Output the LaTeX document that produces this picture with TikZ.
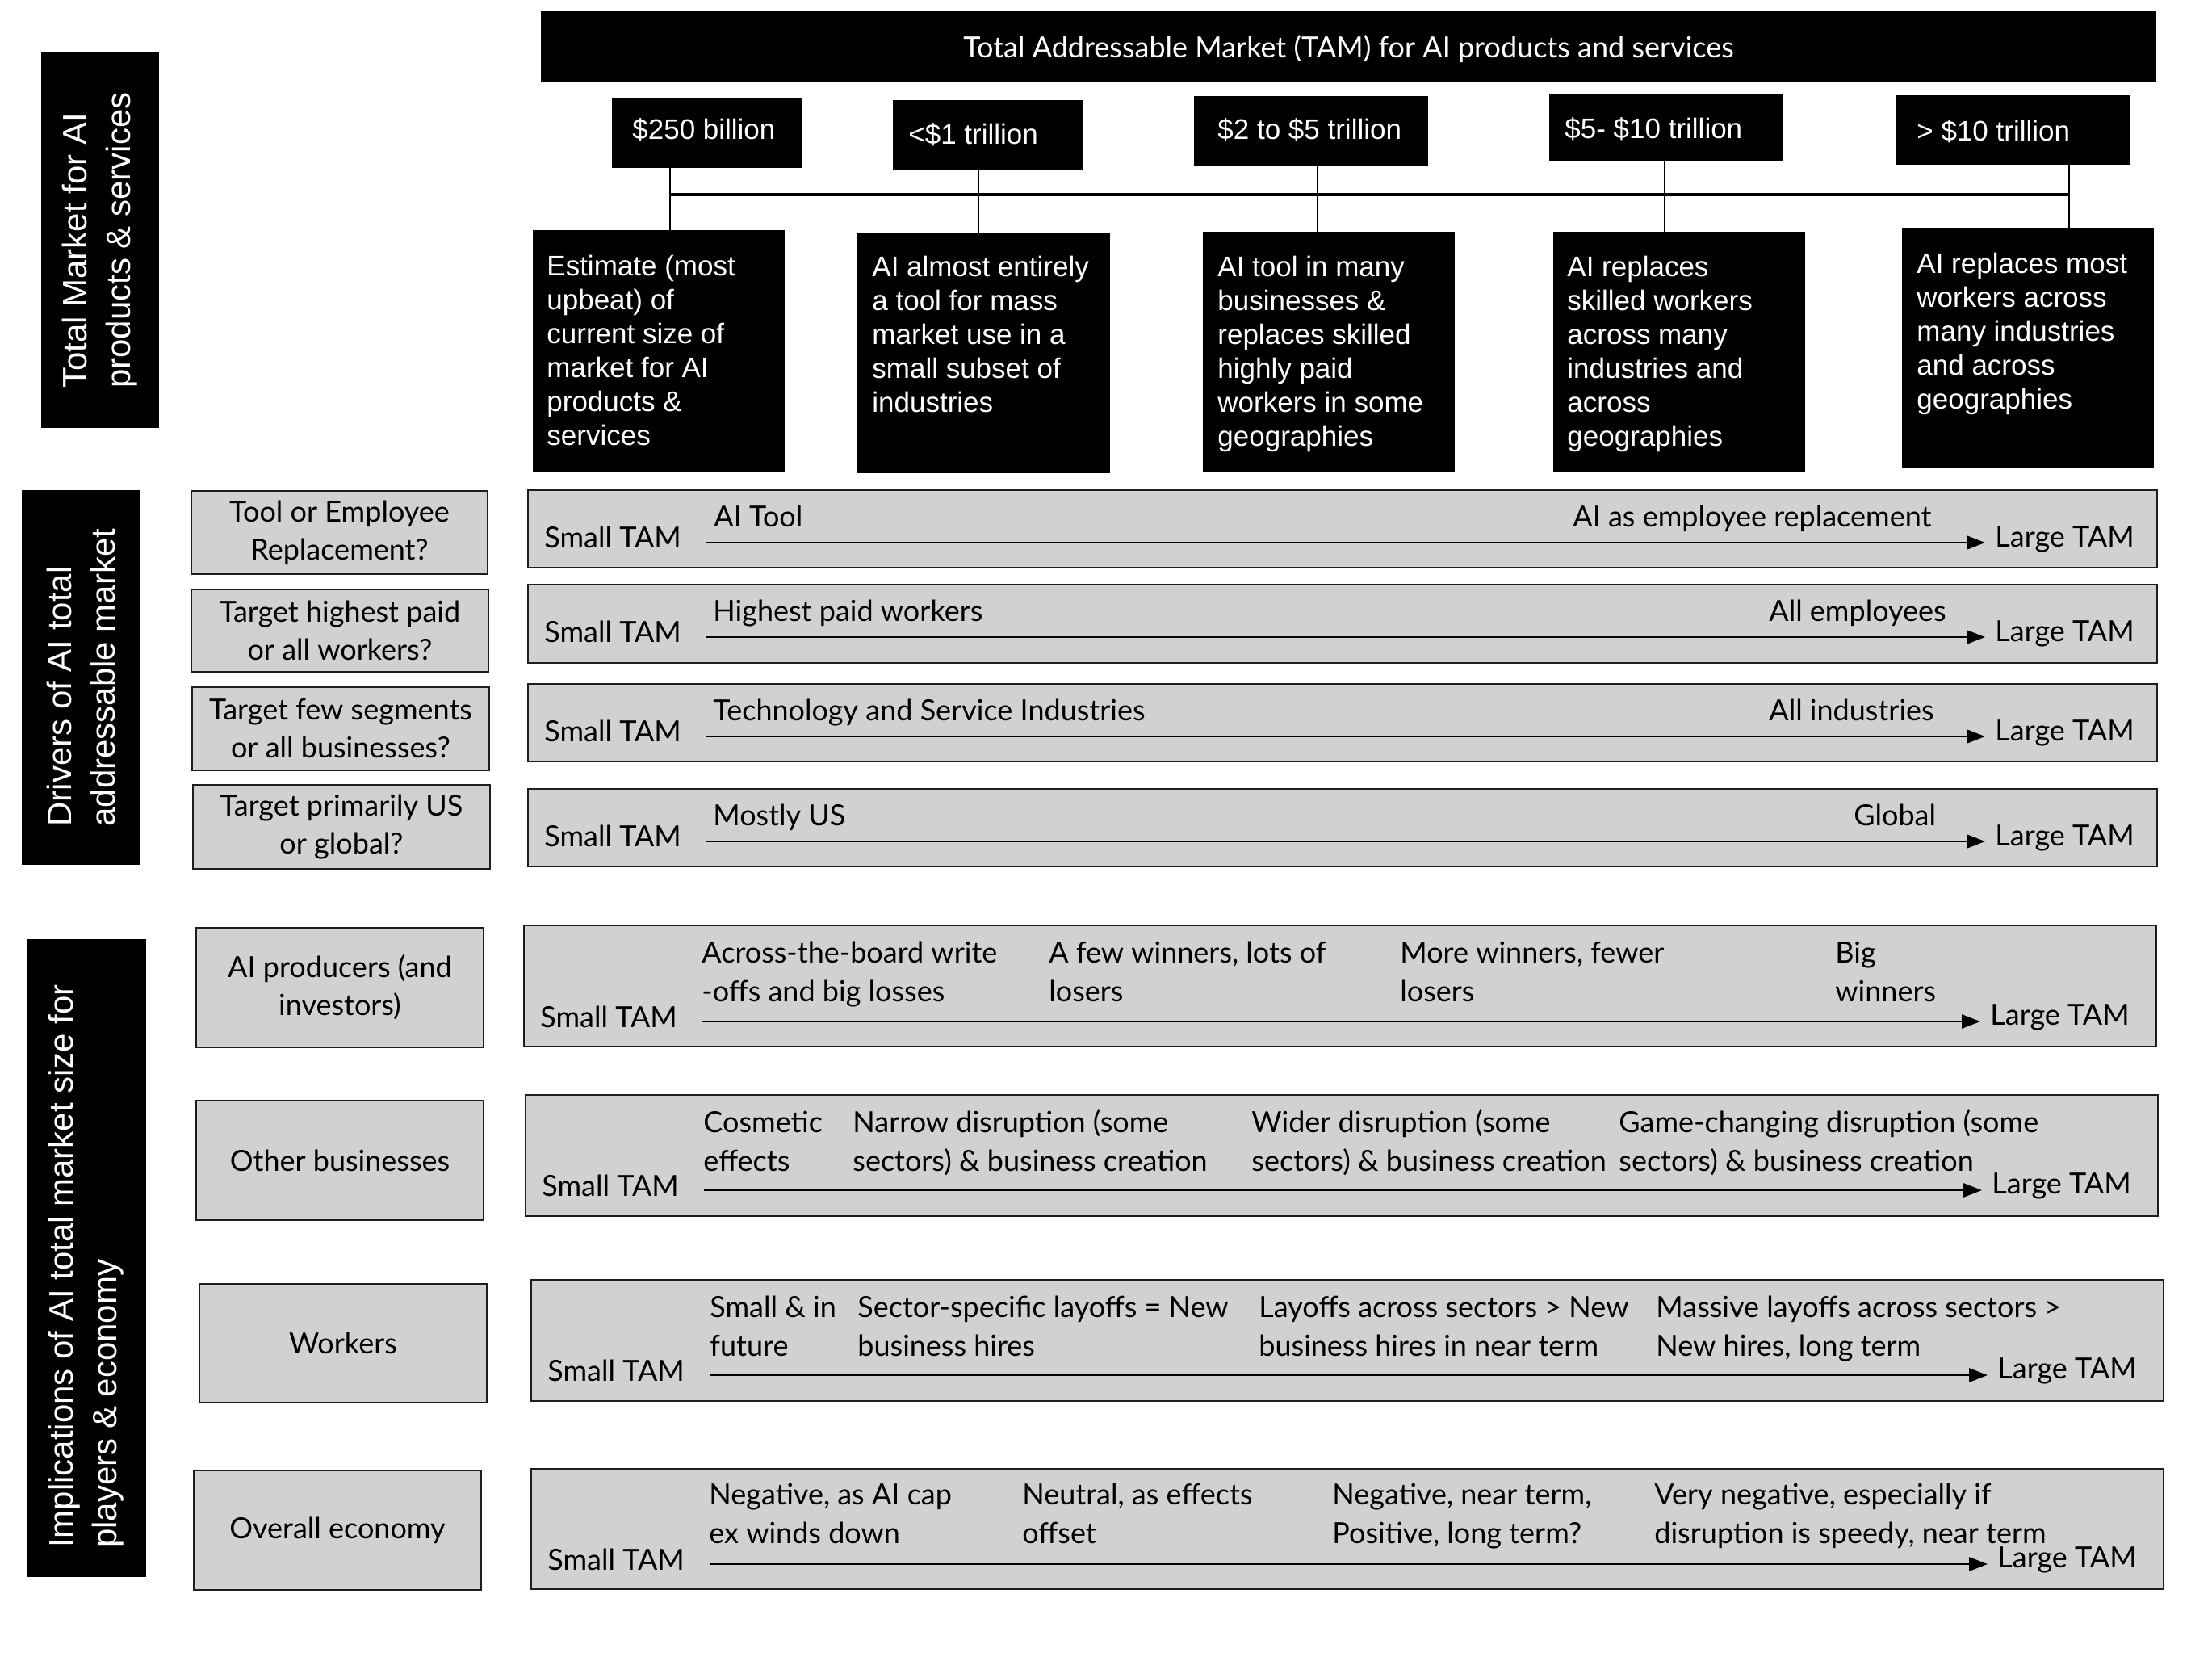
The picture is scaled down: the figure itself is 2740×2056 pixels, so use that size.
\documentclass[tikz,border=0pt]{standalone}
\usepackage{fontspec}
\usetikzlibrary{fit,arrows.meta}
\newfontfamily\latof{Lato}
\newfontfamily\arialf{Liberation Sans}
\definecolor{boxgray}{RGB}{209,209,209}
\definecolor{edgec}{RGB}{30,30,30}
\newcommand\fitbox[6]{\node[#1, fit={(#3,#4) (#5,#6)}] (#2) {};}
\newcommand\strutA{\rule{0pt}{16pt}}
\newcommand\strutB{\rule{0pt}{15pt}}
\begin{document}
\begin{tikzpicture}[x=0.5pt,y=-0.5pt,
  blk/.style={fill=black, draw=none, inner sep=0pt},
  gbox/.style={fill=boxgray, draw=edgec, line width=1.4pt, inner sep=0pt},
  wtxt/.style={text=white, font=\arialf\fontsize{17.5pt}{21pt}\selectfont, inner sep=0pt, align=left},
  gtxt/.style={text=black, font=\latof\fontsize{18pt}{24pt}\selectfont, inner sep=0pt},
  gctxt/.style={text=black, font=\latof\fontsize{18pt}{23.5pt}\selectfont, inner sep=0pt, align=center},
  coltxt/.style={gtxt, anchor=north west, align=left},
  rottxt/.style={text=white, font=\arialf\fontsize{21pt}{27pt}\selectfont, rotate=90, align=left, inner sep=0pt},
  conn/.style={line width=1pt, draw=black},
  hconn/.style={line width=1.6pt, draw=black},
  tamarrow/.style={line width=1.4pt, -{Triangle[length=11.5pt,width=8.5pt]}},
]
\fill[white] (0,0) rectangle (2740,2056);
\useasboundingbox (0,0) rectangle (2740,2056);

% ---------- left black labels ----------
\fitbox{blk}{L1}{51}{65}{197}{530}
\fitbox{blk}{L2}{27}{607}{173}{1071}
\fitbox{blk}{L3}{33}{1163}{181}{1953}
\node[rottxt] at (L1) {Total Market for AI\\products \& services};
\node[rottxt] at (L2) {Drivers of AI total\\addressable market};
\node[rottxt] at ([yshift=-5pt]L3.center) {Implications of AI total market size for\\players \& economy};

% ---------- title ----------
\fitbox{blk}{T}{670}{14}{2671}{102}
\node[gtxt, text=white, anchor=base] at ([yshift=-6.5pt]T.center) {Total Addressable Market (TAM) for AI products and services};

% ---------- value boxes ----------
\fitbox{blk}{V1}{758}{121}{993}{208}
\fitbox{blk}{V2}{1106}{124}{1341}{210}
\fitbox{blk}{V3}{1479}{119}{1769}{205}
\fitbox{blk}{V4}{1919}{116}{2208}{200}
\fitbox{blk}{V5}{2348}{118}{2638}{204}
\node[wtxt, anchor=base west] at (783,172) {\$250 billion};
\node[wtxt, anchor=base west] at (1125,178) {<\$1 trillion};
\node[wtxt, anchor=base west] at (1508,172) {\$2 to \$5 trillion};
\node[wtxt, anchor=base west] at (1938,171) {\$5- \$10 trillion};
\node[wtxt, anchor=base west] at (2374,174) {> \$10 trillion};

% ---------- description boxes ----------
\fitbox{blk}{D1}{660}{285}{972}{584}
\fitbox{blk}{D2}{1062}{288}{1375}{586}
\fitbox{blk}{D3}{1490}{287}{1802}{585}
\fitbox{blk}{D4}{1924}{287}{2236}{585}
\fitbox{blk}{D5}{2356}{282}{2668}{580}
\node[wtxt, anchor=north west] at (677,309) {\strutA Estimate (most\\upbeat) of\\current size of\\market for AI\\products \&\\services};
\node[wtxt, anchor=north west] at (1080,310) {\strutA AI almost entirely\\a tool for mass\\market use in a\\small subset of\\industries};
\node[wtxt, anchor=north west] at (1508,310) {\strutA AI tool in many\\businesses \&\\replaces skilled\\highly paid\\workers in some\\geographies};
\node[wtxt, anchor=north west] at (1941,310) {\strutA AI replaces\\skilled workers\\across many\\industries and\\across\\geographies};
\node[wtxt, anchor=north west] at (2374,306) {\strutA AI replaces most\\workers across\\many industries\\and across\\geographies};

% ---------- connectors ----------
\coordinate (c1) at (830,241);
\coordinate (c2) at (1212,241);
\coordinate (c3) at (1632,241);
\coordinate (c4) at (2062,241);
\coordinate (c5) at (2563,241);
\draw[conn] (V1.south -| c1) -- (D1.north -| c1);
\draw[conn] (V2.south -| c2) -- (D2.north -| c2);
\draw[conn] (V3.south -| c3) -- (D3.north -| c3);
\draw[conn] (V4.south -| c4) -- (D4.north -| c4);
\draw[conn] (V5.south -| c5) -- (D5.north -| c5);
\draw[hconn] (c1) -- (c5);

% ---------- left gray boxes ----------
\fitbox{gbox}{G1}{237}{608}{604}{711}
\fitbox{gbox}{G2}{237}{730}{605}{832}
\fitbox{gbox}{G3}{238}{851}{606}{954}
\fitbox{gbox}{G4}{239}{972}{607}{1076}
\fitbox{gbox}{G5}{243}{1149}{599}{1297}
\fitbox{gbox}{G6}{243}{1363}{599}{1511}
\fitbox{gbox}{G7}{247}{1590}{603}{1737}
\fitbox{gbox}{G8}{240}{1821}{596}{1969}
\node[gctxt] at (G1) {Tool or Employee\\Replacement?};
\node[gctxt] at (G2) {Target highest paid\\or all workers?};
\node[gctxt] at (G3) {Target few segments\\or all businesses?};
\node[gctxt] at (G4) {Target primarily US\\or global?};
\node[gctxt] at (G5) {AI producers (and\\investors)};
\node[gctxt] at (G6) {Other businesses};
\node[gctxt] at (G7) {Workers};
\node[gctxt] at (G8) {Overall economy};

% ---------- row bars ----------
\fitbox{gbox}{R1}{654}{607}{2672}{703}
\fitbox{gbox}{R2}{654}{724}{2672}{821}
\fitbox{gbox}{R3}{654}{847}{2672}{943}
\fitbox{gbox}{R4}{654}{977}{2672}{1073}
\fitbox{gbox}{R5}{649}{1146}{2671}{1296}
\fitbox{gbox}{R6}{651}{1356}{2673}{1506}
\fitbox{gbox}{R7}{658}{1585}{2680}{1735}
\fitbox{gbox}{R8}{658}{1819}{2680}{1968}

% arrows
\coordinate (A1s) at (875,672);  \coordinate (A1e) at (2459,672);
\coordinate (A2s) at (875,789);  \coordinate (A2e) at (2459,789);
\coordinate (A3s) at (875,912);  \coordinate (A3e) at (2459,912);
\coordinate (A4s) at (875,1042); \coordinate (A4e) at (2459,1042);
\coordinate (A5s) at (870,1265); \coordinate (A5e) at (2453,1265);
\coordinate (A6s) at (872,1474); \coordinate (A6e) at (2455,1474);
\coordinate (A7s) at (879,1703); \coordinate (A7e) at (2462,1703);
\coordinate (A8s) at (879,1937); \coordinate (A8e) at (2462,1937);
\foreach \i in {1,...,8} {\draw[tamarrow] (A\i s) -- (A\i e);}

% Small / Large TAM
\node[gtxt, anchor=base west] at (674,678) {Small TAM};
\node[gtxt, anchor=base west] at (674,795) {Small TAM};
\node[gtxt, anchor=base west] at (674,918) {Small TAM};
\node[gtxt, anchor=base west] at (674,1048) {Small TAM};
\node[gtxt, anchor=base west] at (669,1272) {Small TAM};
\node[gtxt, anchor=base west] at (671,1481) {Small TAM};
\node[gtxt, anchor=base west] at (678,1710) {Small TAM};
\node[gtxt, anchor=base west] at (678,1944) {Small TAM};
\foreach \i in {1,...,4} {\node[gtxt, anchor=base west] at ([shift={(12,5)}]A\i e) {Large TAM};}
\foreach \i in {5,...,8} {\node[gtxt, anchor=base west] at ([shift={(12,4)}]A\i e) {Large TAM};}

% rows 1-4 labels
\node[gtxt, anchor=base west] at (884,652) {AI Tool};
\node[gtxt, anchor=base west] at (1948,652) {AI as employee replacement};
\node[gtxt, anchor=base west] at (883,769) {Highest paid workers};
\node[gtxt, anchor=base west] at (2191,769) {All employees};
\node[gtxt, anchor=base west] at (883,892) {Technology and Service Industries};
\node[gtxt, anchor=base west] at (2191,892) {All industries};
\node[gtxt, anchor=base west] at (883,1022) {Mostly US};
\node[gtxt, anchor=base west] at (2296,1022) {Global};

% row 5
\node[coltxt] at (869,1162) {\strutB Across-the-board write\\-offs and big losses};
\node[coltxt] at (1299,1162) {\strutB A few winners, lots of\\losers};
\node[coltxt] at (1734,1162) {\strutB More winners, fewer\\losers};
\node[coltxt] at (2273,1162) {\strutB Big\\winners};
% row 6
\node[coltxt] at (871,1372) {\strutB Cosmetic\\effects};
\node[coltxt] at (1056,1372) {\strutB Narrow disruption (some\\sectors) \& business creation};
\node[coltxt] at (1550,1372) {\strutB Wider disruption (some\\sectors) \& business creation};
\node[coltxt] at (2005,1372) {\strutB Game-changing disruption (some\\sectors) \& business creation};
% row 7
\node[coltxt] at (879,1601) {\strutB Small \& in\\future};
\node[coltxt] at (1062,1601) {\strutB Sector-specific layoffs = New\\business hires};
\node[coltxt] at (1559,1601) {\strutB Layoffs across sectors > New\\business hires in near term};
\node[coltxt] at (2051,1601) {\strutB Massive layoffs across sectors >\\New hires, long term};
% row 8
\node[coltxt] at (878,1833) {\strutB Negative, as AI cap\\ex winds down};
\node[coltxt] at (1266,1833) {\strutB Neutral, as effects\\offset};
\node[coltxt] at (1650,1833) {\strutB Negative, near term,\\Positive, long term?};
\node[coltxt] at (2049,1833) {\strutB Very negative, especially if\\disruption is speedy, near term};
\end{tikzpicture}
\end{document}
